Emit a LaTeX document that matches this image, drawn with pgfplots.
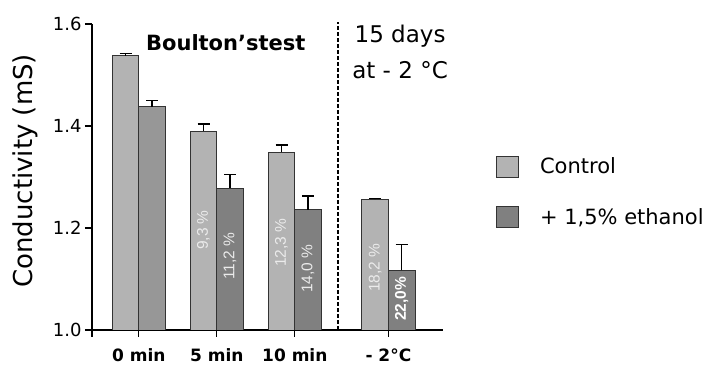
\documentclass[border=0pt]{standalone}
\usepackage{pgfplots}
\pgfplotsset{compat=1.18}
\usepackage{fontspec}
\setmainfont{DejaVu Sans}
\newfontfamily\pctfont{Liberation Sans}
\definecolor{ctrl}{HTML}{B3B3B3}
\definecolor{etoh}{HTML}{808080}
\definecolor{etohA}{HTML}{979797}
\definecolor{pct}{HTML}{EBEBEB}
\begin{document}
\begin{tikzpicture}[x=1pt,y=1pt]
\useasboundingbox (0,0) rectangle (706,374);
\begin{axis}[
  at={(92pt,44pt)}, anchor=south west,
  scale only axis, width=351pt, height=306pt,
  xmin=-0.6, xmax=3.9, ymin=1.0, ymax=1.6,
  clip mode=individual,
  axis x line*=bottom, axis y line*=left,
  axis line style={line width=1.3pt, -},
  tick align=outside, major tick length=7pt,
  tick style={line width=1.3pt, black},
  xtick={0,1,2,3.2},
  xticklabels={0 min,5 min,10 min,- 2°C},
  extra x ticks={-0.6}, extra x tick labels={},
  xticklabel style={font=\bfseries\fontsize{17}{17}\selectfont, yshift=-8pt},
  ytick={1.0,1.2,1.4,1.6},
  yticklabels={1.0,1.2,1.4,1.6},
  yticklabel style={font=\fontsize{18}{18}\selectfont},
  ylabel={Conductivity (mS)},
  ylabel style={at={(axis description cs:-0.19,0.52)}, anchor=center, font=\fontsize{26}{26}\selectfont},
  legend style={at={(axis description cs:1.151,0.451)}, anchor=west, draw=none, fill=none,
    inner sep=0pt, row sep=29pt, font=\fontsize{21}{21}\selectfont,
    /tikz/every odd column/.append style={column sep=19pt}},
  legend cell align=left,
]
\addplot[ybar, bar width=0.34, bar shift=0pt, fill=ctrl, draw=black!80, line width=0.8pt,
  legend image code/.code={\draw[fill=ctrl, draw=black!80, line width=0.8pt] (0pt,-10.5pt) rectangle (22pt,10.5pt);},
  error bars/.cd, y dir=plus, y explicit,
  error bar style={line width=1.3pt, black},
  error mark options={rotate=90, mark size=6pt, line width=1.3pt, black}]
  coordinates {(-0.17,1.538) +- (0,0.004) (0.83,1.390) +- (0,0.014) (1.83,1.349) +- (0,0.014) (3.03,1.256) +- (0,0.002)};
\addlegendentry{Control}
\addplot[ybar, bar width=0.34, bar shift=0pt, fill=etoh, draw=black!80, line width=0.8pt,
  legend image code/.code={\draw[fill=etoh, draw=black!80, line width=0.8pt] (0pt,-10.5pt) rectangle (22pt,10.5pt);},
  error bars/.cd, y dir=plus, y explicit,
  error bar style={line width=1.3pt, black},
  error mark options={rotate=90, mark size=6pt, line width=1.3pt, black}]
  coordinates {(1.17,1.278) +- (0,0.027) (2.17,1.236) +- (0,0.027) (3.37,1.117) +- (0,0.050)};
\addlegendentry{+ 1,5\% ethanol}
\addplot[ybar, bar width=0.34, bar shift=0pt, fill=etohA, draw=black!80, line width=0.8pt, forget plot,
  error bars/.cd, y dir=plus, y explicit,
  error bar style={line width=1.3pt, black},
  error mark options={rotate=90, mark size=6pt, line width=1.3pt, black}]
  coordinates {(0.17,1.438) +- (0,0.012)};
\draw[dash pattern=on 4pt off 2pt, line width=2pt] (axis cs:2.56,1.0) -- (axis cs:2.56,1.604);
\node[font=\bfseries\fontsize{21}{21}\selectfont] at (axis cs:1.115,1.563) {Boulton’stest};
\node[font=\fontsize{23}{23}\selectfont] at (axis cs:3.35,1.576) {15 days};
\node[font=\fontsize{23}{23}\selectfont] at (axis cs:3.35,1.51) {at - 2 °C};
\begin{scope}[every node/.style={rotate=90, text=pct, font=\pctfont\fontsize{15.5}{15.5}\selectfont}]
\node at (axis cs:0.83,1.196) {9,3 \%};
\node at (axis cs:1.17,1.145) {11,2 \%};
\node at (axis cs:1.83,1.171) {12,3 \%};
\node at (axis cs:2.17,1.120) {14,0 \%};
\node at (axis cs:3.03,1.122) {18,2 \%};
\node[text=white, font=\pctfont\bfseries\fontsize{15.5}{15.5}\selectfont] at (axis cs:3.37,1.061) {22,0\%};
\end{scope}
\end{axis}
\end{tikzpicture}
\end{document}
